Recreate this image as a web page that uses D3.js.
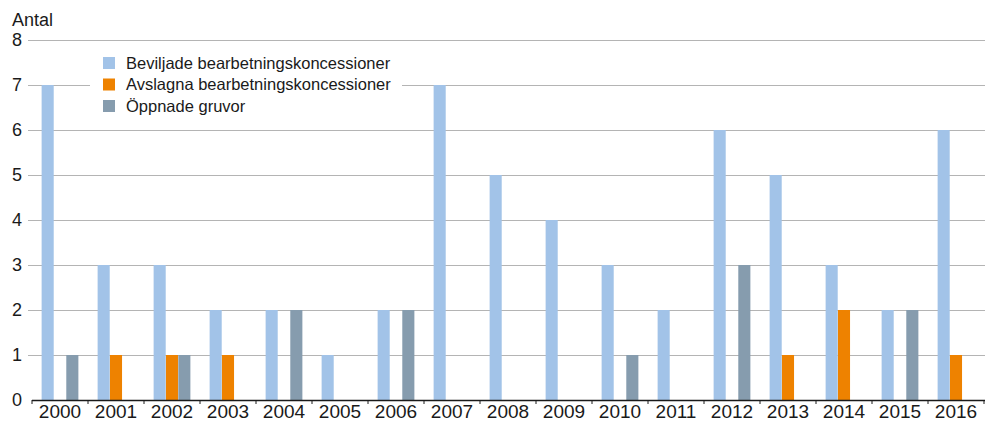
<!DOCTYPE html>
<html><head><meta charset="utf-8">
<script src="https://cdn.jsdelivr.net/npm/d3@7"></script>
<style>body{margin:0;background:#fff}svg{display:block}text{font-family:"Liberation Sans",Arial,sans-serif;fill:#1a1a1a}</style>
</head><body>
<svg id="c" width="985" height="423"></svg>
<script>
const years = ["2000","2001","2002","2003","2004","2005","2006","2007","2008","2009","2010","2011","2012","2013","2014","2015","2016"];
const seriesNames = ["Beviljade bearbetningskoncessioner","Avslagna bearbetningskoncessioner","Öppnade gruvor"];
const beviljade = [7,3,3,2,2,1,2,7,5,4,3,2,6,5,3,2,6];
const avslagna  = [0,1,1,1,0,0,0,0,0,0,0,0,0,1,2,0,1];
const oppnade   = [1,0,1,0,2,0,2,0,0,0,1,0,3,0,0,2,0];
const colors = ["#a2c3e8","#ee8200","#869cae"];
const yTicks = [0,1,2,3,4,5,6,7,8];

const values = [beviljade, avslagna, oppnade];
const svg = d3.select("#c");
const mLeft = 32, mRight = 984, mTop = 40, mBottom = 400;
const x0 = d3.scaleBand().domain(years).range([mLeft, mRight]).padding(0);
const x1 = d3.scaleBand().domain(seriesNames).range([0, x0.bandwidth()]).paddingInner(0.02).paddingOuter(0.78);
const y = d3.scaleLinear().domain([0, 8]).range([mBottom, mTop]);

// gridlines
svg.append("g").selectAll("line").data(yTicks.filter(d=>d>0)).join("line")
  .attr("x1", 28).attr("x2", 985)
  .attr("y1", d=>y(d)+0.5).attr("y2", d=>y(d)+0.5)
  .attr("stroke", "#b4b4b4").attr("stroke-width", 1.2);

// legend background
svg.append("rect").attr("x", 90).attr("y", 50).attr("width", 312).attr("height", 68).attr("fill", "#fff");

// bars
const g = svg.append("g");
years.forEach((yr, i) => {
  seriesNames.forEach((s, j) => {
    const v = values[j][i];
    if (v > 0) {
      g.append("rect")
        .attr("x", x0(yr) + x1(s))
        .attr("width", x1.bandwidth())
        .attr("y", y(v))
        .attr("height", y(0) - y(v))
        .attr("fill", colors[j]);
    }
  });
});

// y tick labels
svg.append("g").selectAll("text").data(yTicks).join("text")
  .attr("x", 12).attr("y", d=>y(d)).attr("dy", "0.35em")
  .style("font-size", "18px").text(d=>d);

svg.append("text").attr("x", 12).attr("y", 26).style("font-size", "18px").text("Antal");

// x axis
const xAxis = d3.axisBottom(x0).tickSize(0).tickPadding(5);
const ax = svg.append("g").attr("transform", `translate(0,${mBottom})`).call(xAxis);
ax.select(".domain").remove();
ax.selectAll("text").style("font-size", "19px").style("font-family", '"Liberation Sans",Arial,sans-serif').attr("fill", "#1a1a1a");
svg.append("line").attr("x1", mLeft).attr("x2", 985).attr("y1", mBottom+0.5).attr("y2", mBottom+0.5).attr("stroke", "#1a1a1a").attr("stroke-width", 1.3);
const bounds = years.map(d=>x0(d)).concat([mRight]);
svg.append("g").selectAll("line").data(bounds).join("line")
  .attr("x1", d=>d).attr("x2", d=>d).attr("y1", mBottom).attr("y2", mBottom+4)
  .attr("stroke", "#1a1a1a").attr("stroke-width", 1);

// legend
const lg = svg.append("g");
seriesNames.forEach((s, j) => {
  const cy = 63 + j*21.5;
  lg.append("rect").attr("x", 103).attr("y", cy-6).attr("width", 12).attr("height", 12).attr("fill", colors[j]);
  lg.append("text").attr("x", 126).attr("y", cy).attr("dy", "0.35em").style("font-size", "16.5px").text(s);
});
</script>
</body></html>
